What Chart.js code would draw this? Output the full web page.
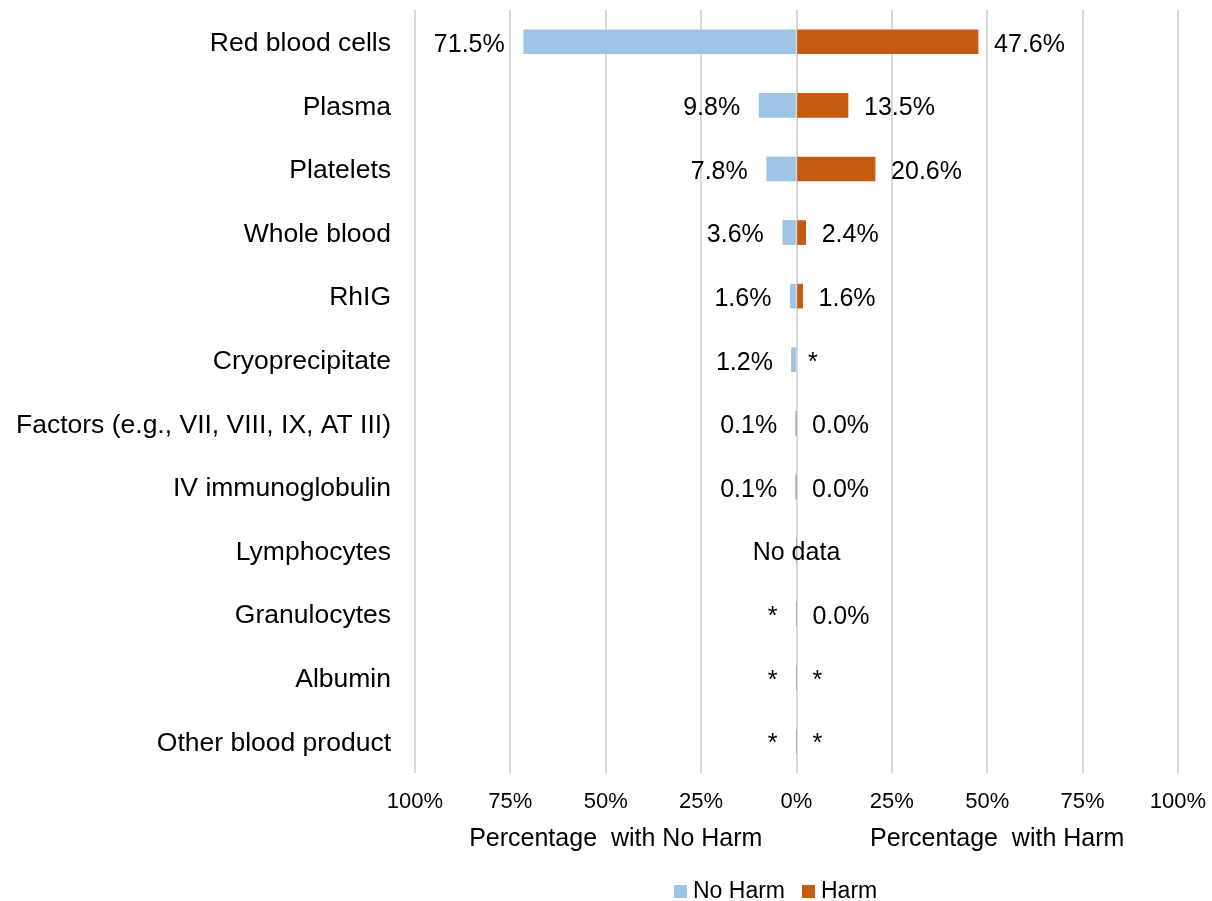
<!DOCTYPE html>
<html><head><meta charset="utf-8">
<script src="https://cdn.jsdelivr.net/npm/chart.js@4"></script>
<style>html,body{margin:0;padding:0;background:#fff}#wrap{width:1212px;height:901px}</style>
</head><body><div id="wrap"><canvas id="c" width="1212" height="901"></canvas></div>
<script>
const categories = ['Red blood cells','Plasma','Platelets','Whole blood','RhIG','Cryoprecipitate','Factors (e.g., VII, VIII, IX, AT III)','IV immunoglobulin','Lymphocytes','Granulocytes','Albumin','Other blood product'];
const noHarmValues = [71.5, 9.8, 7.8, 3.6, 1.6, 1.2, 0.1, 0.1, 0, 0, 0, 0];
const harmValues = [47.6, 13.5, 20.6, 2.4, 1.6, 0, 0.0, 0.0, 0, 0.0, 0, 0];
const noHarmLabels = ['71.5%','9.8%','7.8%','3.6%','1.6%','1.2%','0.1%','0.1%','','*','*','*'];
const harmLabels = ['47.6%','13.5%','20.6%','2.4%','1.6%','*','0.0%','0.0%','','0.0%','*','*'];
const rowNotes = ['','','','','','','','','No data','','',''];
const seriesNames = ['No Harm','Harm'];
const seriesColors = ['#9DC3E6','#C55A11'];
const axisTitles = ['Percentage  with No Harm','Percentage  with Harm'];

const FONT = '"Liberation Sans", Arial, sans-serif';

const labelPlugin = {
  id: 'customLabels',
  afterDatasetsDraw(chart) {
    const ctx = chart.ctx, xs = chart.scales.x;
    const m0 = chart.getDatasetMeta(0), m1 = chart.getDatasetMeta(1);
    ctx.save();
    ctx.fillStyle = '#000';
    ctx.textBaseline = 'middle';
    ctx.font = '25px ' + FONT;
    categories.forEach((c, i) => {
      const b0 = m0.data[i], b1 = m1.data[i];
      const y = b0.y + 3;
      if (noHarmLabels[i]) { ctx.textAlign = 'right'; ctx.fillText(noHarmLabels[i], b0.x - 19, y); }
      if (harmLabels[i]) { ctx.textAlign = 'left'; ctx.fillText(harmLabels[i], b1.x + 16, y); }
      if (rowNotes[i]) { ctx.textAlign = 'center'; ctx.fillText(rowNotes[i], xs.getPixelForValue(0), y); }
    });
    // axis titles
    ctx.font = '25px ' + FONT;
    ctx.textAlign = 'center';
    ctx.fillText(axisTitles[0], xs.getPixelForValue(-50) + 10, 839);
    ctx.fillText(axisTitles[1], xs.getPixelForValue(50) + 10, 839);
    // legend
    ctx.font = '23px ' + FONT;
    ctx.textAlign = 'left';
    let x = 674;
    const ly = 891;
    chart.data.datasets.forEach((ds) => {
      ctx.fillStyle = ds.backgroundColor;
      ctx.fillRect(x, ly - 6, 13, 13);
      x += 19;
      ctx.fillStyle = '#000';
      ctx.fillText(ds.label, x, ly + 1);
      x += ctx.measureText(ds.label).width + 17;
    });
    ctx.restore();
  }
};

function zeroPad(scale) {
  scale.paddingTop = 0; scale.paddingBottom = 0; scale.paddingLeft = 0; scale.paddingRight = 0;
}

new Chart(document.getElementById('c'), {
  type: 'bar',
  data: {
    labels: categories,
    datasets: [
      { label: seriesNames[0], data: noHarmValues.map(v => -v), backgroundColor: seriesColors[0], barThickness: 24 },
      { label: seriesNames[1], data: harmValues, backgroundColor: seriesColors[1], barThickness: 24 }
    ]
  },
  options: {
    indexAxis: 'y',
    responsive: false,
    animation: false,
    devicePixelRatio: 1,
    layout: { padding: { top: 10, right: 34, bottom: 0, left: 0 } },
    plugins: { legend: { display: false }, tooltip: { enabled: false } },
    scales: {
      x: {
        stacked: true,
        min: -100, max: 100,
        afterFit(scale) { scale.height = 128; zeroPad(scale); },
        ticks: {
          stepSize: 25,
          padding: 16,
          color: '#000',
          font: { family: FONT, size: 22 },
          callback: v => Math.abs(v) + '%'
        },
        grid: { color: '#d9d9d9', lineWidth: 2, drawTicks: false },
        border: { display: false }
      },
      y: {
        stacked: true,
        afterFit(scale) { scale.width = 415; zeroPad(scale); },
        ticks: { padding: 24, labelOffset: 2, color: '#000', font: { family: FONT, size: 26.5 } },
        grid: { display: false, drawTicks: false },
        border: { display: false }
      }
    }
  },
  plugins: [labelPlugin]
});
</script>
</body></html>
